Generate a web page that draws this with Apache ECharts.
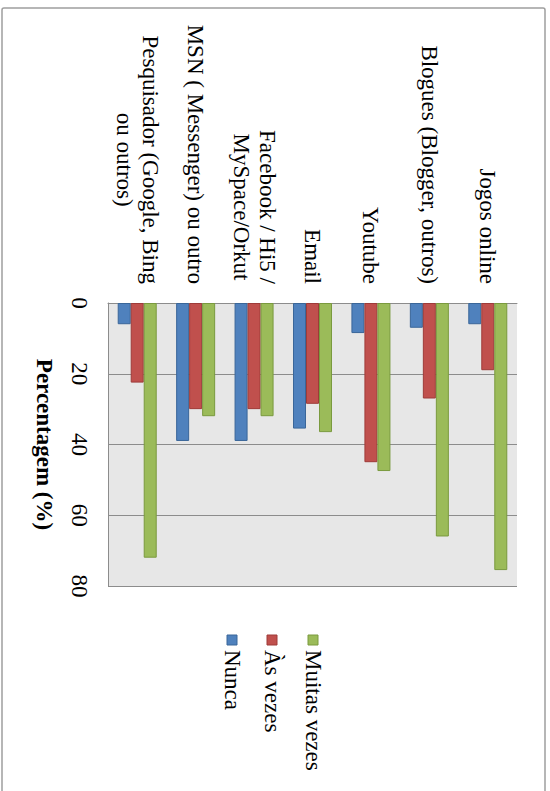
<!DOCTYPE html>
<html>
<head>
<meta charset="utf-8">
<script src="https://cdn.jsdelivr.net/npm/echarts@6/dist/echarts.min.js"></script>
<style>
html,body{margin:0;padding:0;background:#fff;}
#chart{width:550px;height:791px;}
</style>
</head>
<body>
<div id="chart"></div>
<script>
var categories = ['Pesquisador (Google, Bing\nou outros)', 'MSN ( Messenger) ou outro', 'Facebook / Hi5 /\nMySpace/Orkut', 'Email', 'Youtube', 'Blogues (Blogger, outros)', 'Jogos online'];
var nunca = [6, 39, 39, 35.5, 8.5, 7, 6];
var asVezes = [22.5, 30, 30, 28.5, 45, 27, 19];
var muitasVezes = [72, 32, 32, 36.5, 47.5, 66, 75.5];
var valueTicks = [0, 20, 40, 60, 80];
var seriesNames = ['Nunca', 'Às vezes', 'Muitas vezes'];
var axisTitle = 'Percentagem (%)';

var FONT = '"Liberation Serif", "DejaVu Serif", serif';
var FS = 23;
var colors = ['#4F81BD', '#C0504D', '#9BBB59'];
var borders = ['#3A6699', '#9E3B39', '#7A9A3E'];
var seriesData = [nunca, asVezes, muitasVezes];

var chart = echarts.init(document.getElementById('chart'), null, {renderer: 'svg'});

var series = seriesNames.map(function (name, i) {
  return {
    name: name,
    type: 'bar',
    data: seriesData[i],
    barWidth: 13,
    barGap: '0%',
    itemStyle: {color: colors[i], borderColor: borders[i], borderWidth: 1},
    emphasis: {disabled: true}
  };
});

// legend drawn rotated (reads top to bottom), order as in the reference
var legendX = [232, 272, 313];
var legendEls = [];
seriesNames.forEach(function (name, i) {
  legendEls.push({
    type: 'rect',
    shape: {x: legendX[i] - 5, y: 635, width: 10, height: 10},
    style: {fill: colors[i], stroke: borders[i], lineWidth: 1}
  });
  legendEls.push({
    type: 'text',
    x: legendX[i],
    y: 650,
    rotation: -Math.PI / 2,
    style: {
      text: name,
      font: FS + 'px ' + FONT,
      fill: '#000',
      textAlign: 'left',
      textVerticalAlign: 'middle',
      align: 'left',
      verticalAlign: 'middle'
    }
  });
});

var option = {
  animation: false,
  backgroundColor: '#fff',
  grid: {
    left: 108, top: 303, width: 409, height: 283,
    show: true, backgroundColor: '#e7e7e7', borderWidth: 0,
    containLabel: false
  },
  xAxis: {
    type: 'category',
    position: 'top',
    data: categories,
    axisLine: {show: true, lineStyle: {color: '#8c8c8c', width: 1}},
    axisTick: {show: false},
    splitLine: {show: false},
    axisLabel: {
      interval: 0,
      rotate: -90,
      margin: 19,
      color: '#000',
      fontFamily: FONT,
      fontSize: FS,
      lineHeight: 26,
      formatter: function (v) {
        return v.split('\n').map(function (s) { return '{c|' + s + '}'; }).join('\n');
      },
      rich: {c: {align: 'center', fontFamily: FONT, fontSize: FS, lineHeight: 26, color: '#000'}}
    }
  },
  yAxis: {
    type: 'value',
    inverse: true,
    min: valueTicks[0],
    max: valueTicks[valueTicks.length - 1],
    interval: valueTicks[1] - valueTicks[0],
    position: 'left',
    name: axisTitle,
    nameLocation: 'middle',
    nameRotate: -90,
    nameGap: 52,
    nameTextStyle: {fontFamily: FONT, fontSize: FS, fontWeight: 'bold', color: '#000'},
    axisLine: {show: true, lineStyle: {color: '#8c8c8c', width: 1}},
    axisTick: {show: false},
    splitLine: {show: true, lineStyle: {color: '#8c8c8c', width: 1}},
    axisLabel: {
      rotate: -90,
      margin: 17,
      color: '#000',
      fontFamily: FONT,
      fontSize: FS,
      formatter: function (v) { return String(v); }
    }
  },
  legend: {show: false},
  graphic: [{
    type: 'rect',
    shape: {x: 2, y: 8, width: 543, height: 800, r: 2},
    style: {fill: 'none', stroke: '#9e9e9e', lineWidth: 1.5},
    z: 100
  }, {
    type: 'group',
    children: legendEls
  }],
  series: series
};
chart.setOption(option);
</script>
</body>
</html>
